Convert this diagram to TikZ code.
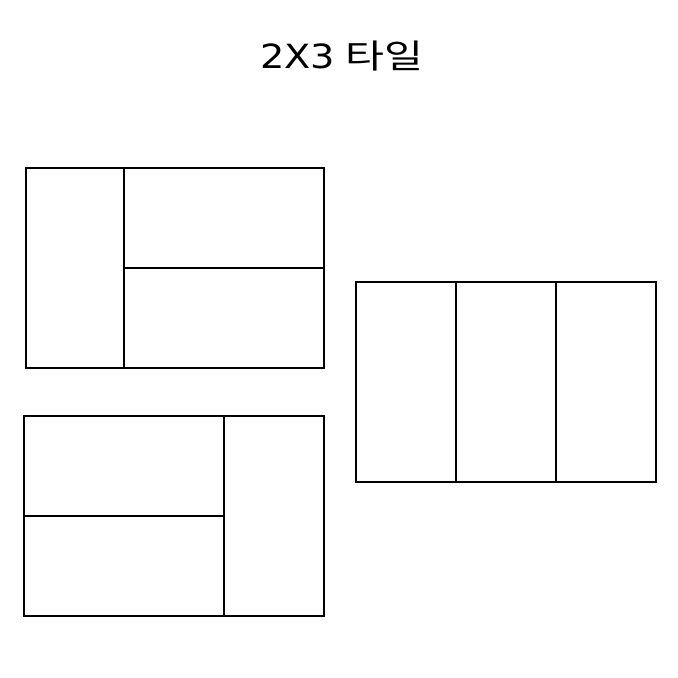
\documentclass[tikz,border=0pt]{standalone}
\usepackage{fontspec}
\newfontfamily\kr{Noto Sans CJK KR}
\newfontfamily\dv{DejaVu Sans}
\begin{document}
\begin{tikzpicture}[x=0.75pt,y=-0.75pt,tile/.style={draw=black,line width=1.5pt},title/.style={inner sep=0pt,anchor=base west}]
\useasboundingbox (0,0) rectangle (678,678);
\node[title,font=\dv\fontsize{25}{30}\selectfont] (t1) at (260,68) {\scalebox{1.15}[1]{2X3}};
\node[title,font=\kr\fontsize{25}{30}\selectfont] (t2) at (345,68) {\scalebox{1.27}[1]{타일}};
% top-left tiling
\draw[tile] (26,168) rectangle (324,368);
\draw[tile] (124,168) -- (124,368);
\draw[tile] (124,268) -- (324,268);
% right tiling
\draw[tile] (356,282) rectangle (656,482);
\draw[tile] (456,282) -- (456,482);
\draw[tile] (556,282) -- (556,482);
% bottom-left tiling
\draw[tile] (24,416) rectangle (324,616);
\draw[tile] (224,416) -- (224,616);
\draw[tile] (24,516) -- (224,516);
\end{tikzpicture}
\end{document}
